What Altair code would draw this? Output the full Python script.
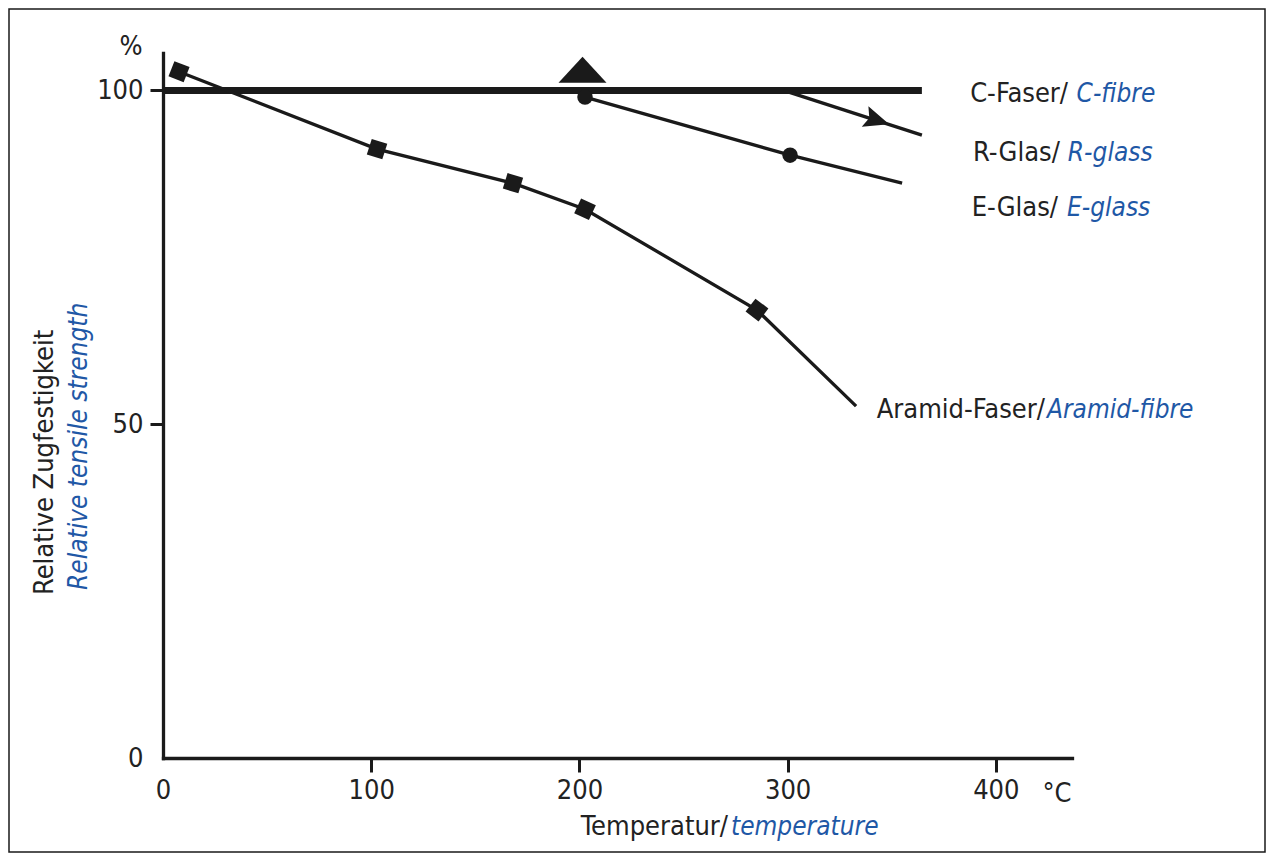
import math
import altair as alt
import pandas as pd

FONT = "Liberation Sans Narrow, Arial Narrow, Nimbus Sans Narrow, DejaVu Sans Condensed, sans-serif"
BLACK = "#1a1a1a"
BLUE = "#1f58a6"

# ---- data ----
aramid_x = [7.7, 102.8, 168.1, 202.7, 285.3, 332.9]
aramid_y = [102.8, 91.2, 86.1, 82.2, 67.1, 52.7]
aramid_marker_count = 5

rglass_x = [202.7, 301.2, 355.0]
rglass_y = [99.0, 90.3, 86.1]
rglass_marker_count = 2

eglass_x = [298.0, 364.5]
eglass_y = [100.0, 93.3]
eglass_arrow = (343.0, 95.5)

cfibre_x = [0.0, 364.5]
cfibre_y = [100.0, 100.0]
cfibre_triangle = (201.5, 103.1)

x_ticks = [0, 100, 200, 300, 400]
y_ticks = [0, 50, 100]

labels_de = ["C-Faser/", "R-Glas/", "E-Glas/", "Aramid-Faser/"]
labels_en = ["C-fibre", "R-glass", "E-glass", "Aramid-fibre"]
label_de_end_x = [434.7, 430.8, 429.9, 423.6]
label_en_start_x = [438.8, 434.6, 434.2, 424.6]
label_y = [98.2, 89.4, 81.2, 50.9]

X_MAX = 436.6
Y_MAX = 105.6
W = 909
H = 705
KX = W / X_MAX
KY = H / Y_MAX


def seg_angle(x1, y1, x2, y2):
    return math.degrees(math.atan2(-(y2 - y1) * KY, (x2 - x1) * KX))


def marker_angles(xs, ys, n):
    out = []
    for i in range(n):
        a = []
        if i > 0:
            a.append(seg_angle(xs[i - 1], ys[i - 1], xs[i], ys[i]))
        if i < len(xs) - 1:
            a.append(seg_angle(xs[i], ys[i], xs[i + 1], ys[i + 1]))
        out.append(sum(a) / len(a))
    return out


zero_hidden = {"condition": {"test": "datum.value === 0", "value": 0}, "value": 1}

x_axis = alt.Axis(values=x_ticks, title=None, grid=False, domainWidth=3.3, domainColor=BLACK,
                  domainCap="square", tickColor=BLACK, tickWidth=3, tickSize=14,
                  tickOpacity=zero_hidden, labelFont=FONT, labelFontSize=27, labelColor="#222",
                  labelPadding=5, labelFlush=False, labelOverlap=False)
y_axis = alt.Axis(values=y_ticks, title=None, grid=False, domainWidth=3.3, domainColor=BLACK,
                  domainCap="square", tickColor=BLACK, tickWidth=3, tickSize=13,
                  tickOpacity=zero_hidden, labelFont=FONT, labelFontSize=27, labelColor="#222",
                  labelPadding=7, labelFlush=False, labelOverlap=False)

xs = alt.Scale(domain=[0, X_MAX], nice=False, zero=False)
ys = alt.Scale(domain=[0, Y_MAX], nice=False, zero=False)


def X():
    return alt.X("x:Q", scale=xs, axis=x_axis)


def Y():
    return alt.Y("y:Q", scale=ys, axis=y_axis)


def line(xv, yv, width):
    df = pd.DataFrame({"x": xv, "y": yv, "o": list(range(len(xv)))})
    return alt.Chart(df).mark_line(color=BLACK, strokeWidth=width, strokeCap="butt").encode(
        x=X(), y=Y(), order="o:Q")


frame = alt.Chart(pd.DataFrame({"a": [0]})).mark_rect(
    filled=False, stroke=BLACK, strokeWidth=1.5).encode(
    x=alt.value(-154), x2=alt.value(1102), y=alt.value(-44), y2=alt.value(799))

aramid_line = line(aramid_x, aramid_y, 3.3)
rglass_line = line(rglass_x, rglass_y, 3.3)
eglass_line = line(eglass_x, eglass_y, 3.3)
cfibre_line = line(cfibre_x, cfibre_y, 7)

am = pd.DataFrame({"x": aramid_x[:aramid_marker_count], "y": aramid_y[:aramid_marker_count],
                   "ang": marker_angles(aramid_x, aramid_y, aramid_marker_count)})
aramid_pts = alt.Chart(am).mark_point(shape="square", filled=True, fill=BLACK, opacity=1,
                                      size=265, strokeWidth=0).encode(
    x=X(), y=Y(), angle=alt.Angle("ang:Q", scale=None))

rm = pd.DataFrame({"x": rglass_x[:rglass_marker_count], "y": rglass_y[:rglass_marker_count]})
rglass_pts = alt.Chart(rm).mark_point(shape="circle", filled=True, fill=BLACK, opacity=1,
                                      size=240, strokeWidth=0).encode(x=X(), y=Y())

arrow_ang = seg_angle(eglass_x[0], eglass_y[0], eglass_x[1], eglass_y[1])
ea = pd.DataFrame({"x": [eglass_arrow[0]], "y": [eglass_arrow[1]], "ang": [arrow_ang]})
arrow = alt.Chart(ea).mark_point(shape="M1,0L-1,-0.85L-0.65,0L-1,0.85Z", filled=True, fill=BLACK,
                                 opacity=1, size=640, strokeWidth=0).encode(
    x=X(), y=Y(), angle=alt.Angle("ang:Q", scale=None))

ct = pd.DataFrame({"x": [cfibre_triangle[0]], "y": [cfibre_triangle[1]]})
triangle = alt.Chart(ct).mark_point(shape="M-1,0.54L0,-0.54L1,0.54Z", filled=True, fill=BLACK,
                                    opacity=1, size=2304, strokeWidth=0).encode(x=X(), y=Y())

de = pd.DataFrame({"x": label_de_end_x, "y": label_y, "t": labels_de})
en = pd.DataFrame({"x": label_en_start_x, "y": label_y, "t": labels_en})
de_text = alt.Chart(de).mark_text(align="right", baseline="alphabetic", font=FONT, fontSize=27,
                                  color="#222").encode(x=X(), y=Y(), text="t:N")
en_text = alt.Chart(en).mark_text(align="left", baseline="alphabetic", font=FONT, fontSize=26,
                                  fontStyle="italic", color=BLUE).encode(x=X(), y=Y(), text="t:N")

one = pd.DataFrame({"a": [0]})


def txt(s, x, y, color="#222", italic=False, align="left", angle=0, size=27):
    kw = dict(align=align, baseline="alphabetic", font=FONT, fontSize=size, color=color)
    if italic:
        kw["fontStyle"] = "italic"
    if angle:
        kw["angle"] = angle
    return alt.Chart(one).mark_text(**kw).encode(x=alt.value(x), y=alt.value(y), text=alt.value(s))


ytitle_de = txt("Relative Zugfestigkeit", -110, 542, angle=270)
ytitle_en = txt("Relative tensile strength", -76, 537, color=BLUE, italic=True, angle=270, size=26)
xtitle_de = txt("Temperatur/", 565, 782, align="right")
xtitle_en = txt("temperature", 568, 782, color=BLUE, italic=True, size=26)
pct = txt("%", -32, 2, align="center")
degc = txt("°C", 894, 749, align="center")

chart = alt.layer(
    frame, cfibre_line, eglass_line, rglass_line, aramid_line,
    aramid_pts, rglass_pts, arrow, triangle,
    de_text, en_text, ytitle_de, ytitle_en, xtitle_de, xtitle_en, pct, degc,
).properties(
    width=W, height=H,
    autosize=alt.AutoSizeParams(type="none"),
    padding={"left": 155, "top": 45, "right": 194, "bottom": 95},
    background="white",
).configure_view(stroke=None)

chart.save("out.html", embed_options={"renderer": "svg", "actions": False})
